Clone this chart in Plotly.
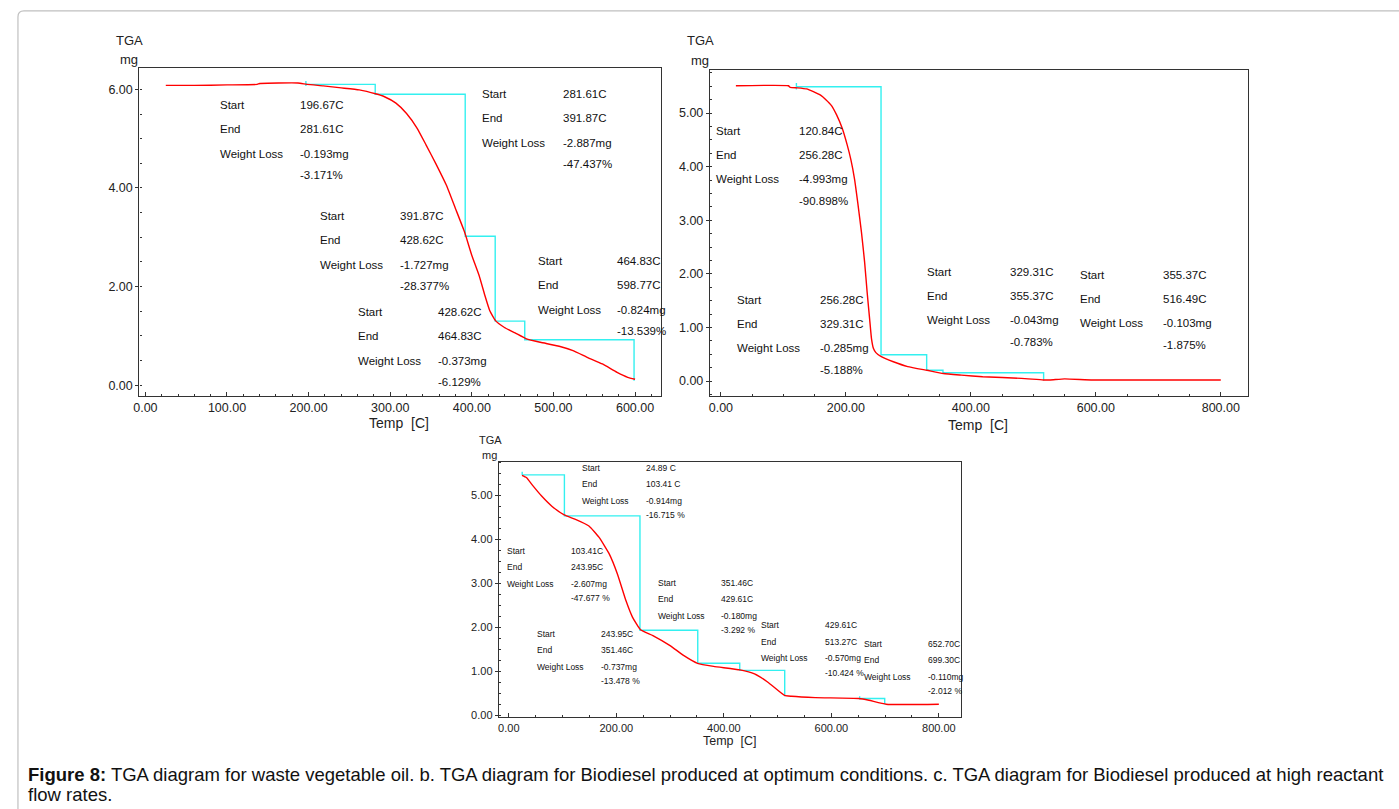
import plotly.graph_objects as go

W, H = 1399, 809

# ---------------- data ----------------
# Panel a: waste vegetable oil
a_temp = [25, 60, 100, 137, 140, 187, 198, 218, 240, 262, 282, 293, 307, 320, 333, 344,
          356, 369, 380, 391, 400, 409, 416, 422, 429, 440, 453, 467, 484, 507, 524,
          542, 560, 578, 591, 600]
a_mass = [6.08, 6.08, 6.09, 6.10, 6.12, 6.13, 6.10, 6.07, 6.03, 5.99, 5.91, 5.85, 5.72,
          5.51, 5.21, 4.87, 4.49, 4.05, 3.58, 3.11, 2.63, 2.22, 1.82, 1.51, 1.31, 1.17,
          1.06, 0.94, 0.87, 0.79, 0.70, 0.56, 0.43, 0.26, 0.16, 0.12]
a_step_T = [196.67, 281.61, 391.87, 428.62, 464.83, 598.77]
a_step_m = [6.10, 5.90, 3.02, 1.30, 0.92, 0.09]
a_texts = [
    ["196.67C", "281.61C", "-0.193mg", "-3.171%"],
    ["281.61C", "391.87C", "-2.887mg", "-47.437%"],
    ["391.87C", "428.62C", "-1.727mg", "-28.377%"],
    ["428.62C", "464.83C", "-0.373mg", "-6.129%"],
    ["464.83C", "598.77C", "-0.824mg", "-13.539%"],
]

# Panel b: biodiesel at optimum conditions
b_temp = [24, 108, 111, 122.5, 137, 148, 160, 168, 177, 185, 194, 202, 208, 214, 219,
          225, 230, 234, 238, 241, 244, 248, 256, 276, 299, 330, 356, 385, 419, 481,
          516, 527, 550, 595, 800]
b_mass = [5.51, 5.51, 5.48, 5.47, 5.45, 5.40, 5.33, 5.25, 5.14, 4.97, 4.72, 4.41, 4.13,
          3.76, 3.33, 2.77, 2.22, 1.66, 1.16, 0.79, 0.61, 0.53, 0.46, 0.36, 0.27, 0.20,
          0.14, 0.11, 0.08, 0.05, 0.02, 0.02, 0.04, 0.02, 0.02]
b_step_T = [120.84, 256.28, 329.31, 355.37, 516.49]
b_step_m = [5.49, 0.49, 0.20, 0.155, 0.01]
b_texts = [
    ["120.84C", "256.28C", "-4.993mg", "-90.898%"],
    ["256.28C", "329.31C", "-0.285mg", "-5.188%"],
    ["329.31C", "355.37C", "-0.043mg", "-0.783%"],
    ["355.37C", "516.49C", "-0.103mg", "-1.875%"],
]

# Panel c: biodiesel at high reactant flow rates
c_temp = [24.5, 32.7, 45, 61, 80, 103, 124, 149, 168, 187, 202, 218, 230, 245, 268,
          300, 325, 351, 381, 430, 457, 482, 513, 526, 570, 651, 670, 702, 800]
c_mass = [5.45, 5.40, 5.21, 4.98, 4.75, 4.55, 4.45, 4.30, 4.04, 3.66, 3.21, 2.60, 2.23,
          1.94, 1.81, 1.58, 1.36, 1.18, 1.11, 1.03, 0.94, 0.75, 0.45, 0.43, 0.40, 0.38,
          0.34, 0.25, 0.25]
c_step_T = [24.89, 103.41, 243.95, 351.46, 429.61, 513.27]
c_step_m = [5.46, 4.53, 1.93, 1.18, 1.02, 0.43]
c_step2_T = [652.70, 699.30]
c_step2_m = [0.38, 0.25]
c_texts = [
    ["24.89 C", "103.41 C", "-0.914mg", "-16.715 %"],
    ["103.41C", "243.95C", "-2.607mg", "-47.677 %"],
    ["351.46C", "429.61C", "-0.180mg", "-3.292 %"],
    ["243.95C", "351.46C", "-0.737mg", "-13.478 %"],
    ["429.61C", "513.27C", "-0.570mg", "-10.424 %"],
    ["652.70C", "699.30C", "-0.110mg", "-2.012 %"],
]

row_labels = ["Start", "End", "Weight Loss"]
caption_bold = "Figure 8:"
caption_1 = (" TGA diagram for waste vegetable oil. b. TGA diagram for Biodiesel produced "
             "at optimum conditions. c. TGA diagram for Biodiesel produced at high reactant")
caption_2 = "flow rates."

# ---------------- layout helpers ----------------
FONT = "Liberation Sans, Arial, sans-serif"
RED = "#ff0000"
CYAN = "#33f0f0"
AX = "#333333"


def px(x):
    return x / W


def py(y):
    return 1 - y / H


def step_path(T, m, tick_up, tick_down):
    xs = [T[0], T[0], None, T[0]]
    ys = [m[0] + tick_up, m[0] - tick_down, None, m[0]]
    for i in range(1, len(T)):
        xs += [T[i], T[i]]
        ys += [m[i - 1], m[i]]
    return xs, ys


fig = go.Figure()

panels = [
    dict(s="", temp=a_temp, mass=a_mass, steps=[(a_step_T, a_step_m, 0.07, 0.03)]),
    dict(s="2", temp=b_temp, mass=b_mass, steps=[(b_step_T, b_step_m, 0.07, 0.05)]),
    dict(s="3", temp=c_temp, mass=c_mass,
         steps=[(c_step_T, c_step_m, 0.07, 0.0), (c_step2_T, c_step2_m, 0.05, 0.02)]),
]
for p in panels:
    xr, yr = "x" + p["s"], "y" + p["s"]
    for T, m, tu, td in p["steps"]:
        sx, sy = step_path(T, m, tu, td)
        fig.add_trace(go.Scatter(x=sx, y=sy, mode="lines", line=dict(color=CYAN, width=1.4),
                                 xaxis=xr, yaxis=yr, showlegend=False, hoverinfo="skip"))
    fig.add_trace(go.Scatter(x=p["temp"], y=p["mass"], mode="lines",
                             line=dict(color=RED, width=1.4, shape="spline", smoothing=0.4),
                             xaxis=xr, yaxis=yr, showlegend=False))


def xaxis_cfg(dom, rng, tickvals, minor, size):
    return dict(domain=[px(dom[0]), px(dom[1])], range=rng, tickvals=tickvals,
                tickformat=".2f", ticks="inside", ticklen=4, tickwidth=1, tickcolor=AX,
                showline=True, mirror=True, linecolor=AX, linewidth=1.3,
                showgrid=False, zeroline=False,
                minor=dict(dtick=minor, ticks="inside", ticklen=2, tickcolor=AX, showgrid=False),
                tickfont=dict(family=FONT, size=size, color="#222"))


def yaxis_cfg(dom, rng, tickvals, minor, size):
    return dict(domain=[py(dom[1]), py(dom[0])], range=rng, tickvals=tickvals,
                tickformat=".2f", ticks="outside", ticklen=3, tickwidth=1, tickcolor=AX,
                showline=True, mirror=True, linecolor=AX, linewidth=1.3,
                showgrid=False, zeroline=False,
                minor=dict(dtick=minor, ticks="inside", ticklen=2, tickcolor=AX, showgrid=False),
                tickfont=dict(family=FONT, size=size, color="#222"))


fig.update_layout(
    width=W, height=H, margin=dict(l=0, r=0, t=0, b=0),
    paper_bgcolor="white", plot_bgcolor="white", showlegend=False,
    xaxis=dict(xaxis_cfg((134, 658), [-7.3, 632], [0, 100, 200, 300, 400, 500, 600], 20, 12.5), anchor="y"),
    yaxis=dict(yaxis_cfg((68, 398), [-0.22, 6.44], [0, 2, 4, 6], 0.5, 12.5), anchor="x"),
    xaxis2=dict(xaxis_cfg((707, 1247), [-17.5, 843], [0, 200, 400, 600, 800], 50, 12.5), anchor="y2"),
    yaxis2=dict(yaxis_cfg((70, 398), [-0.28, 5.81], [0, 1, 2, 3, 4, 5], 0.25, 12.5), anchor="x2"),
    xaxis3=dict(xaxis_cfg((495, 959), [-18.5, 841], [0, 200, 400, 600, 800], 50, 11), anchor="y3"),
    yaxis3=dict(yaxis_cfg((464, 721), [-0.05, 5.76], [0, 1, 2, 3, 4, 5], 0.25, 11), anchor="x3"),
)

annots = []


def add_blocks(texts, positions, s, offsets, size):
    for t, (lx, vx, y0) in zip(texts, positions):
        for i, off in enumerate(offsets):
            if i < 3:
                annots.append(dict(x=lx, y=y0, yshift=off, text=row_labels[i], xref="x" + s,
                                   yref="y" + s, xanchor="left", yanchor="middle",
                                   showarrow=False, font=dict(family=FONT, size=size, color="#111")))
            annots.append(dict(x=vx, y=y0, yshift=off, text=t[i], xref="x" + s, yref="y" + s,
                               xanchor="left", yanchor="middle", showarrow=False,
                               font=dict(family=FONT, size=size, color="#111")))


add_blocks(a_texts, [(88.9, 186.7, 5.69), (410, 509, 5.91), (212, 310, 3.44),
                     (258, 356, 1.49), (479, 576, 2.52)], "", [0, -24, -49, -70], 11.5)
add_blocks(b_texts, [(-10.3, 121.4, 4.66), (22.8, 155.6, 1.52), (326, 458.7, 2.03),
                     (572, 704, 1.97)], "2", [0, -24, -48, -70], 11.5)
add_blocks(c_texts, [(132.5, 251.8, 5.62), (-7.5, 111.8, 3.74), (273.8, 391.9, 3.01),
                     (49, 167, 1.85), (466, 584, 2.05), (657.5, 775.6, 1.62)],
           "3", [0, -16.5, -33, -47.5], 8.5)

for (x, y, t, sz) in [(395, 425, "Temp  [C]", 14), (976, 427, "Temp  [C]", 14),
                      (727, 745, "Temp  [C]", 12.5),
                      (124, 41, "TGA", 13), (124, 60, "mg", 13),
                      (697, 41, "TGA", 13), (697, 61, "mg", 13),
                      (487, 442, "TGA", 11), (486, 457, "mg", 11)]:
    annots.append(dict(x=px(x), y=py(y), xref="paper", yref="paper", text=t, showarrow=False,
                       xanchor="center", yanchor="middle",
                       font=dict(family=FONT, size=sz, color="#222")))

annots.append(dict(x=px(20), y=py(778), xref="paper", yref="paper",
                   text="<b>" + caption_bold + "</b>" + caption_1, showarrow=False,
                   xanchor="left", yanchor="middle", font=dict(family=FONT, size=18.5, color="#111")))
annots.append(dict(x=px(20), y=py(798), xref="paper", yref="paper", text=caption_2,
                   showarrow=False, xanchor="left", yanchor="middle",
                   font=dict(family=FONT, size=18.5, color="#111")))
fig.update_layout(annotations=annots)

# outer rounded border
r = 6
path = (f"M {px(1420)},{py(11)} L {px(12 + r)},{py(11)} "
        f"Q {px(12)},{py(11)} {px(12)},{py(11 + r)} L {px(12)},{py(830)}")
fig.add_shape(type="path", path=path, xref="paper", yref="paper",
              line=dict(color="#c0c0c0", width=1.2))

fig.write_html("out.html", config={"displayModeBar": False},
               post_script="document.body.style.margin='0';document.body.style.overflow='hidden';")
